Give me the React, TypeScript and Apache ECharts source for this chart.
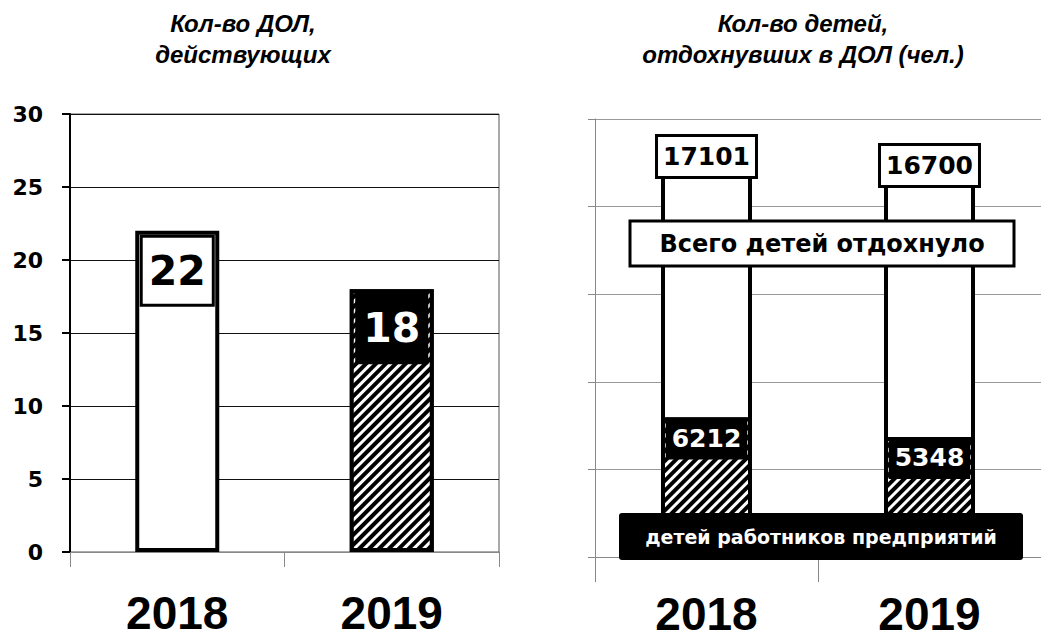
import React, { useEffect, useRef } from "react";
import * as echarts from "echarts";

const years = ["2018", "2019"];
const camps = [22, 18];
const childrenTotal = [17101, 16700];
const childrenEmployees = [6212, 5348];
const leftTicks = { min: 0, max: 30, interval: 5 };
const rightTicks = { min: 0, max: 19500, interval: 3900 };
const titleLeft = "Кол-во ДОЛ,\nдействующих";
const titleRight = "Кол-во детей,\nотдохнувших в ДОЛ (чел.)";
const noteTotal = "Всего детей отдохнуло";
const noteEmployees = "детей работников предприятий";

const NUM_FONT = '"DejaVu Sans", sans-serif';
const YEAR_FONT = '"Liberation Sans", Arial, sans-serif';

const hatch = {
  symbol: "rect",
  symbolSize: 1,
  color: "#fff",
  dashArrayX: [1, 0],
  dashArrayY: [3, 4],
  rotation: -Math.PI / 4,
};

export default function App() {
  const ref = useRef<HTMLDivElement>(null);
  useEffect(() => {
    if (!ref.current) return;
    const chart = echarts.init(ref.current, null, { renderer: "svg" });

    const leftData = camps.map((v, i) =>
      i === 0
        ? {
            value: v,
            itemStyle: { color: "#fff", borderColor: "#000", borderWidth: 4 },
            label: {
              show: true,
              position: "insideTop",
              distance: 7,
              backgroundColor: "#fff",
              borderColor: "#000",
              borderWidth: 3,
              padding: [9, 6, 9, 6],
              lineHeight: 48,
              fontSize: 41,
              fontWeight: "bold",
              fontFamily: NUM_FONT,
              color: "#000",
            },
          }
        : {
            value: v,
            itemStyle: { color: "#000", borderColor: "#000", borderWidth: 4, decal: hatch },
            label: {
              show: true,
              position: "insideTop",
              distance: 3,
              backgroundColor: "#000",
              padding: [12, 8, 12, 8],
              lineHeight: 48,
              fontSize: 41,
              fontWeight: "bold",
              fontFamily: NUM_FONT,
              color: "#fff",
            },
          }
    );

    const yearLabel = {
      fontSize: 46,
      lineHeight: 46,
      fontWeight: "bold",
      fontFamily: YEAR_FONT,
      color: "#000",
    };

    const titleStyle = {
      fontSize: 24,
      fontStyle: "italic",
      fontWeight: "bold",
      fontFamily: YEAR_FONT,
      color: "#000",
      lineHeight: 31,
    };

    chart.setOption({
      animation: false,
      backgroundColor: "#fff",
      title: [
        {
          text: titleLeft,
          left: 243,
          top: 8,
          padding: 0,
          textAlign: "center",
          textStyle: titleStyle,
        },
        {
          text: titleRight,
          left: 803,
          top: 8,
          padding: 0,
          textAlign: "center",
          textStyle: titleStyle,
        },
      ],
      grid: [
        { left: 70, top: 114, width: 429, height: 438, show: true, borderColor: "#555", borderWidth: 1 },
        { left: 595, top: 119, width: 456, height: 438 },
      ],
      xAxis: [
        {
          type: "category",
          gridIndex: 0,
          data: years,
          axisLine: { lineStyle: { color: "#888", width: 1 } },
          axisTick: { show: true, length: 15, lineStyle: { color: "#888" } },
          axisLabel: { ...yearLabel, margin: 38 },
        },
        {
          type: "category",
          gridIndex: 1,
          data: years,
          axisLine: { lineStyle: { color: "#888", width: 1 } },
          axisTick: { show: true, length: 25, lineStyle: { color: "#888" } },
          axisLabel: { ...yearLabel, margin: 34 },
        },
      ],
      yAxis: [
        {
          type: "value",
          gridIndex: 0,
          ...leftTicks,
          axisLine: { show: true, lineStyle: { color: "#000", width: 2 } },
          axisTick: { show: true, length: 8, lineStyle: { color: "#000", width: 2 } },
          splitLine: { lineStyle: { color: "#111", width: 1 } },
          axisLabel: {
            fontSize: 22,
            fontWeight: "bold",
            fontFamily: NUM_FONT,
            color: "#000",
            margin: 27,
          },
        },
        {
          type: "value",
          gridIndex: 1,
          ...rightTicks,
          axisLine: { show: true, lineStyle: { color: "#888", width: 1 } },
          axisTick: { show: true, length: 7, lineStyle: { color: "#888" } },
          splitLine: { lineStyle: { color: "#999", width: 1 } },
          axisLabel: { show: false },
        },
      ],
      series: [
        {
          type: "bar",
          xAxisIndex: 0,
          yAxisIndex: 0,
          barWidth: 84,
          data: leftData,
        },
        {
          type: "bar",
          xAxisIndex: 1,
          yAxisIndex: 1,
          barWidth: 91,
          barGap: "-100%",
          data: childrenTotal,
          itemStyle: { color: "#fff", borderColor: "#000", borderWidth: 4 },
          label: {
            show: true,
            position: "top",
            distance: -3,
            backgroundColor: "#fff",
            borderColor: "#000",
            borderWidth: 3,
            padding: [5, 5, 4, 5],
            lineHeight: 30,
            fontSize: 25,
            fontWeight: "bold",
            fontFamily: NUM_FONT,
            color: "#000",
          },
        },
        {
          type: "bar",
          xAxisIndex: 1,
          yAxisIndex: 1,
          barWidth: 91,
          barGap: "-100%",
          data: childrenEmployees,
          itemStyle: { color: "#000", borderColor: "#000", borderWidth: 4, decal: hatch },
          label: {
            show: true,
            position: "insideTop",
            distance: 0,
            backgroundColor: "#000",
            padding: [6, 6, 6, 6],
            lineHeight: 30,
            fontSize: 25,
            fontWeight: "bold",
            fontFamily: NUM_FONT,
            color: "#fff",
          },
        },
      ],
      graphic: [
        {
          type: "group",
          z: 100,
          children: [
            {
              type: "rect",
              z: 100,
              shape: { x: 630, y: 221, width: 384, height: 45 },
              style: { fill: "#fff", stroke: "#000", lineWidth: 3 },
            },
            {
              type: "text",
              z: 101,
              x: 822,
              y: 244,
              style: {
                text: noteTotal,
                fill: "#000",
                font: `bold 24px ${NUM_FONT}`,
                align: "center",
                verticalAlign: "middle",
                textAlign: "center",
                textVerticalAlign: "middle",
              },
            },
            {
              type: "rect",
              z: 100,
              shape: { x: 619, y: 513, width: 404, height: 47, r: 3 },
              style: { fill: "#000" },
            },
            {
              type: "text",
              z: 101,
              x: 821,
              y: 537,
              style: {
                text: noteEmployees,
                fill: "#fff",
                font: `bold 19px ${NUM_FONT}`,
                align: "center",
                verticalAlign: "middle",
                textAlign: "center",
                textVerticalAlign: "middle",
              },
            },
          ],
        },
      ],
    });
    return () => chart.dispose();
  }, []);
  return (
    <div
      ref={ref}
      style={{ position: "fixed", left: 0, top: 0, width: 1041, height: 639 }}
    />
  );
}
